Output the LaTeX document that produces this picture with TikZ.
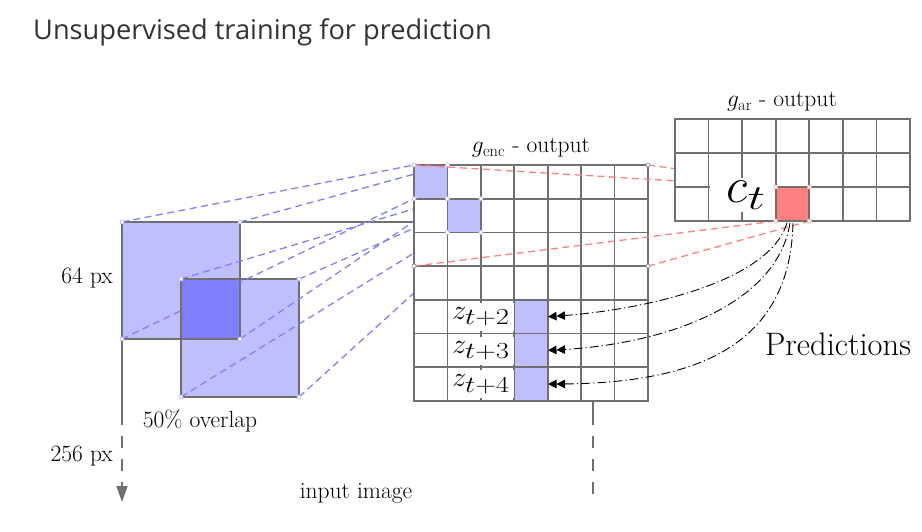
\RequirePackage{fix-cm}
\documentclass[tikz,border=0pt]{standalone}
\usepackage{fontspec}
\newfontfamily\titlefont{Open Sans}
\usetikzlibrary{arrows.meta}
\DeclareMathSizes{28}{28}{23}{17}
\DeclareMathSizes{50}{50}{35}{25}
\definecolor{gline}{RGB}{112,112,112}
\definecolor{bfill}{RGB}{191,191,255}
\definecolor{bdark}{RGB}{128,128,255}
\definecolor{rfill}{RGB}{255,128,128}
\definecolor{rlight}{RGB}{255,170,170}
\definecolor{titlecol}{RGB}{51,51,51}
\begin{document}
\begin{tikzpicture}[x=1pt,y=-1pt,
  gridline/.style={draw=gline,line width=1.7pt},
  bdash/.style={draw=bdark,line width=1.3pt,dash pattern=on 7pt off 4.5pt},
  rdash/.style={draw=rfill,line width=1.3pt,dash pattern=on 7pt off 4.5pt},
  pred/.style={draw=black,line width=0.9pt,dash pattern=on 9pt off 3pt on 1.2pt off 3pt,
     -{Triangle[length=8.5pt,width=8.5pt]Triangle[length=8.5pt,width=8.5pt]}},
  mk/.style={circle,draw=#1,fill=white,line width=0.8pt,inner sep=0pt,minimum size=4pt},
  lbl/.style={font=\fontsize{23.5}{28}\selectfont,inner sep=0pt},
  zlab/.style={fill=white,inner sep=0pt,minimum width=65pt,minimum height=28pt,font=\fontsize{28}{30}\selectfont},
  ctlab/.style={fill=white,inner sep=0pt,minimum width=64pt,minimum height=34pt,font=\fontsize{50}{52}\selectfont},
  imgline/.style={draw=gline,line width=1.7pt},
  imgdash/.style={draw=gline,line width=1.7pt,dash pattern=on 12pt off 11pt,dash phase=12pt},
]
\useasboundingbox (0,0) rectangle (922,532);

% title
\node[anchor=west,inner sep=0pt,text=titlecol,font=\titlefont\fontsize{27.2}{32}\selectfont] (title) at (33,32) {Unsupervised training for prediction};

% corner coordinates
\coordinate (s1tl) at (122,222); \coordinate (s1tr) at (240,222);
\coordinate (s1bl) at (122,339); \coordinate (s1br) at (240,339);
\coordinate (s2tl) at (181,279); \coordinate (s2tr) at (299,279);
\coordinate (s2bl) at (181,397); \coordinate (s2br) at (299,397);
\coordinate (e0tl) at (414,165); \coordinate (e0tr) at (447.4,165);
\coordinate (e0bl) at (414,198.7); \coordinate (e0br) at (447.4,198.7);
\coordinate (e1tl) at (447.4,198.7); \coordinate (e1tr) at (480.9,198.7);
\coordinate (e1bl) at (447.4,232.4); \coordinate (e1br) at (480.9,232.4);
\coordinate (etr) at (648,165); \coordinate (eml) at (414,266.1); \coordinate (emr) at (648,266.1);
\coordinate (ctl) at (775.7,187); \coordinate (ctr) at (809.3,187);
\coordinate (cbl) at (775.7,221); \coordinate (cbr) at (809.3,221);

% input image frame
\draw[imgline] (s1tl) -- (414,222);
\coordinate (lbreak) at (122,425); \coordinate (lend) at (122,502);
\coordinate (rtop) at (593,222); \coordinate (rbreak) at (593,425); \coordinate (rend) at (593,497);
\draw[imgline] (s1tl) -- (lbreak);
\draw[imgdash,-{Triangle[length=16pt,width=11pt]}] (lbreak) -- (lend);
\draw[imgline] (rtop) -- (rbreak);
\draw[imgdash] (rbreak) -- (rend);

% patches
\fill[bfill] (s1tl) rectangle (s1br);
\fill[bfill] (s2tl) rectangle (s2br);
\fill[bdark] (s2tl) rectangle (s1br);
\draw[gline,line width=1.7pt] (s1tl) rectangle (s1br);
\draw[gline,line width=1.7pt] (s2tl) rectangle (s2br);

% blue projection lines
\draw[bdash] (s1tl) -- (e0tl);
\draw[bdash] (s1tr) -- (e0tr);
\draw[bdash] (s1bl) -- (e0bl);
\draw[bdash] (s1br) -- (e0br);
\draw[bdash] (s2tl) -- (e1tl);
\draw[bdash] (s2tr) -- (e1tr);
\draw[bdash] (s2bl) -- (e1bl);
\draw[bdash] (s2br) -- (e1br);

% encoder grid
\fill[white] (414,165) rectangle (648,401);
\fill[bfill] (e0tl) rectangle (e0br);
\fill[bfill] (e1tl) rectangle (e1br);
\fill[bfill] (514.3,300) rectangle (547.7,401);
\foreach \i in {0,...,7} \draw[gridline] ({414+\i*33.43},165) -- ({414+\i*33.43},401);
\foreach \j in {0,...,7} \draw[gridline] (414,{165+\j*33.71}) -- (648,{165+\j*33.71});
\draw[gridline,line join=miter] (414,165) rectangle (648,401);

% red projection lines
\draw[rdash] (e0tl) -- (ctl);
\draw[rdash] (etr) -- (ctr);
\draw[rdash] (eml) -- (cbl);
\draw[rdash] (emr) -- (cbr);

% autoregressive grid
\fill[white] (675,119) rectangle (910,221);
\fill[rfill] (ctl) rectangle (cbr);
\foreach \i in {0,...,7} \draw[gridline] ({675+\i*33.57},119) -- ({675+\i*33.57},221);
\foreach \j in {0,...,3} \draw[gridline] (675,{119+\j*34}) -- (910,{119+\j*34});
\draw[gridline,line join=miter] (675,119) rectangle (910,221);

% labels in grids
\node[zlab] (z2) at (481,317) {$z_{\scalebox{1.25}[1]{$\scriptstyle t+2$}}$};
\node[zlab] (z3) at (481,350.5) {$z_{\scalebox{1.25}[1]{$\scriptstyle t+3$}}$};
\node[zlab] (z4) at (481,384.2) {$z_{\scalebox{1.25}[1]{$\scriptstyle t+4$}}$};
\node[ctlab] (ct) at (742,195) {\hspace*{8pt}$c_{\scalebox{1.4}[1]{$\scriptstyle t$}}$};

% prediction arrows
\coordinate (p0) at (787,223); \coordinate (p1) at (790,223); \coordinate (p2) at (793,223);
\coordinate (t2) at (548,316.7); \coordinate (t3) at (548,350.3); \coordinate (t4) at (548,384);
\draw[pred] (p0) .. controls (770,280) and (650,310) .. (t2);
\draw[pred] (p1) .. controls (777,305) and (665,345) .. (t3);
\draw[pred] (p2) .. controls (790,350) and (690,384) .. (t4);

% markers
\foreach \c/\n in {s1tl/a,s1tr/b,s1bl/c,s1br/d,s2tl/e,s2tr/f,s2bl/g,s2br/h,e0tl/i,e0tr/j,e0bl/k,e1tl/l,e1tr/m,e1bl/n,e1br/o}
  \node[mk=bfill] (mk\n) at (\c) {};
\foreach \c/\n in {etr/p,eml/q,emr/r}
  \node[mk=gline!70] (mk\n) at (\c) {};
\foreach \c/\n in {ctl/s,ctr/t,cbl/u,cbr/v}
  \node[mk=rlight] (mk\n) at (\c) {};

% text labels
\node[lbl] (genc) at (531,148) {$g_{\mathrm{enc}}$ - output};
\node[lbl] (gar) at (782,102) {$g_{\mathrm{ar}}$ - output};
\node[lbl,anchor=east] (px64) at (113,278) {64 px};
\node[lbl,anchor=east] (px256) at (113,456) {256 px};
\node[lbl] (overlap) at (200,421) {50\% overlap};
\node[lbl] (input) at (356,493) {input image};
\node[inner sep=0pt,font=\fontsize{32.5}{36}\selectfont] (pred) at (838,344) {Predictions};
\end{tikzpicture}
\end{document}
